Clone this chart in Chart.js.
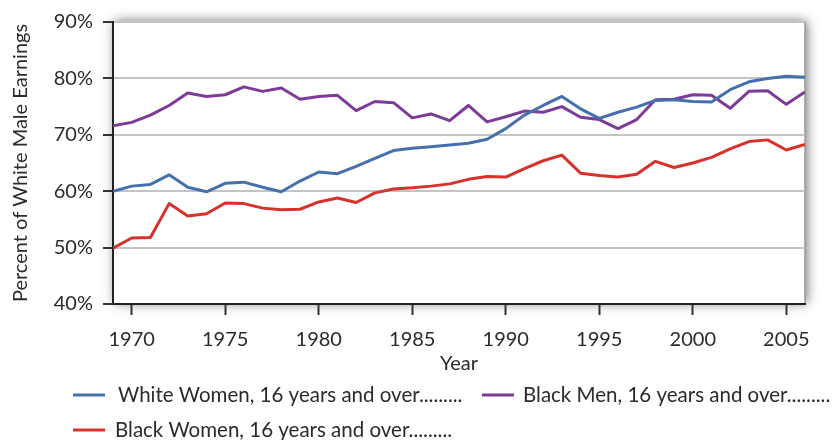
<!DOCTYPE html>
<html>
<head>
<meta charset="utf-8">
<script src="https://cdn.jsdelivr.net/npm/chart.js@4.4.0/dist/chart.umd.min.js"></script>
<style>
  html, body { margin: 0; padding: 0; background: #fff; }
  #wrap { width: 833px; height: 440px; }
</style>
</head>
<body>
<div id="wrap"><canvas id="earningsChart" width="833" height="440"></canvas></div>
<script>
const years = [1969, 1970, 1971, 1972, 1973, 1974, 1975, 1976, 1977, 1978,
               1979, 1980, 1981, 1982, 1983, 1984, 1985, 1986, 1987, 1988,
               1989, 1990, 1991, 1992, 1993, 1994, 1995, 1996, 1997, 1998,
               1999, 2000, 2001, 2002, 2003, 2004, 2005, 2006];

const whiteWomen = [60.0, 60.9, 61.2, 62.9, 60.7, 59.9, 61.4, 61.6, 60.7, 59.9,
                    61.8, 63.4, 63.1, 64.4, 65.8, 67.2, 67.6, 67.9, 68.2, 68.5,
                    69.2, 71.1, 73.5, 75.2, 76.8, 74.6, 72.9, 74.0, 74.9, 76.1,
                    76.2, 75.9, 75.8, 78.0, 79.4, 80.0, 80.4, 80.2];

const blackMen = [71.6, 72.2, 73.5, 75.2, 77.4, 76.8, 77.1, 78.5, 77.7, 78.3,
                  76.3, 76.8, 77.0, 74.3, 75.9, 75.7, 73.0, 73.7, 72.5, 75.2,
                  72.3, 73.2, 74.2, 74.0, 75.0, 73.1, 72.7, 71.1, 72.7, 76.2,
                  76.3, 77.1, 77.0, 74.7, 77.7, 77.8, 75.4, 77.6];

const blackWomen = [49.9, 51.7, 51.8, 57.8, 55.6, 56.0, 57.9, 57.8, 57.0, 56.7,
                    56.8, 58.1, 58.8, 58.0, 59.7, 60.4, 60.6, 60.9, 61.3, 62.1,
                    62.6, 62.5, 64.0, 65.4, 66.4, 63.2, 62.8, 62.5, 63.0, 65.3,
                    64.2, 65.0, 66.0, 67.5, 68.8, 69.1, 67.3, 68.3];

const xTicks = [1970, 1975, 1980, 1985, 1990, 1995, 2000, 2005];
const yTicks = [40, 50, 60, 70, 80, 90];

const seriesLabels = ['White Women, 16 years and over.........',
                      'Black Men, 16 years and over.........',
                      'Black Women, 16 years and over.........'];
const seriesColors = ['#4670ad', '#7d3a98', '#d7312c'];

const FONT = "Lato, 'Open Sans', sans-serif";
const TEXT = '#2b2b2b';

function toPoints(values) {
    return values.map((v, i) => ({ x: years[i], y: v }));
}

// white plot box with a soft drop shadow on top/right
const boxShadow = {
    id: 'boxShadow',
    beforeDraw(chart) {
        const { ctx, chartArea: a } = chart;
        ctx.save();
        ctx.shadowColor = 'rgba(0,0,0,0.55)';
        ctx.shadowBlur = 11;
        ctx.shadowOffsetX = 2;
        ctx.shadowOffsetY = -1;
        ctx.fillStyle = '#ffffff';
        ctx.fillRect(a.left, a.top, a.right - a.left, a.bottom - a.top);
        ctx.restore();
        ctx.save();
        ctx.strokeStyle = '#999999';
        ctx.lineWidth = 1.5;
        ctx.beginPath();
        ctx.moveTo(a.left, a.top);
        ctx.lineTo(a.right, a.top);
        ctx.lineTo(a.right, a.bottom);
        ctx.stroke();
        ctx.restore();
    }
};

// legend laid out like the original: two items on the first row, one below
const legendRows = {
    id: 'legendRows',
    afterDraw(chart) {
        const { ctx } = chart;
        const spots = [
            { lx: 73, tx: 118, y: 395 },
            { lx: 482, tx: 523, y: 395 },
            { lx: 73, tx: 115, y: 430 }
        ];
        ctx.save();
        ctx.font = '20.5px ' + FONT;
        ctx.textBaseline = 'middle';
        chart.data.datasets.forEach((ds, i) => {
            const s = spots[i];
            ctx.strokeStyle = ds.borderColor;
            ctx.lineWidth = 3;
            ctx.beginPath();
            ctx.moveTo(s.lx, s.y);
            ctx.lineTo(s.lx + 32, s.y);
            ctx.stroke();
            ctx.fillStyle = TEXT;
            ctx.fillText(ds.label, s.tx, s.y);
        });
        ctx.restore();
    }
};

new Chart(document.getElementById('earningsChart').getContext('2d'), {
    type: 'line',
    data: {
        datasets: [
            { label: seriesLabels[0], data: toPoints(whiteWomen), borderColor: seriesColors[0] },
            { label: seriesLabels[1], data: toPoints(blackMen), borderColor: seriesColors[1] },
            { label: seriesLabels[2], data: toPoints(blackWomen), borderColor: seriesColors[2] }
        ]
    },
    options: {
        responsive: false,
        animation: false,
        layout: { padding: { top: 19, right: 28, bottom: 64, left: 0 } },
        elements: {
            line: { borderWidth: 3, tension: 0, borderJoinStyle: 'round' },
            point: { radius: 0 }
        },
        plugins: {
            legend: { display: false },
            tooltip: { enabled: false }
        },
        scales: {
            x: {
                type: 'linear',
                min: 1969,
                max: 2006,
                afterBuildTicks: scale => { scale.ticks = xTicks.map(v => ({ value: v })); },
                afterFit: scale => { scale.height = 72; },
                grid: { drawOnChartArea: false, drawTicks: true, tickLength: 11, tickColor: '#333', tickWidth: 2 },
                border: { color: '#222', width: 2 },
                ticks: { color: TEXT, font: { family: FONT, size: 20 }, padding: 13, maxRotation: 0, callback: v => String(v) },
                title: { display: true, text: 'Year', color: TEXT, font: { family: FONT, size: 20 }, padding: { top: 0, bottom: 0 } }
            },
            y: {
                min: 40,
                max: 90,
                afterBuildTicks: scale => { scale.ticks = yTicks.map(v => ({ value: v })); },
                afterFit: scale => { scale.width = 113; },
                grid: { color: '#c4c4c4', lineWidth: 2, drawTicks: true, tickLength: 10, tickColor: '#333', tickWidth: 2 },
                border: { color: '#222', width: 2 },
                ticks: { color: TEXT, font: { family: FONT, size: 20 }, padding: 10, callback: v => v + '%' },
                title: { display: true, text: 'Percent of White Male Earnings', color: TEXT, font: { family: FONT, size: 20 }, padding: { top: 9, bottom: 0 } }
            }
        }
    },
    plugins: [boxShadow, legendRows]
});
</script>
</body>
</html>
